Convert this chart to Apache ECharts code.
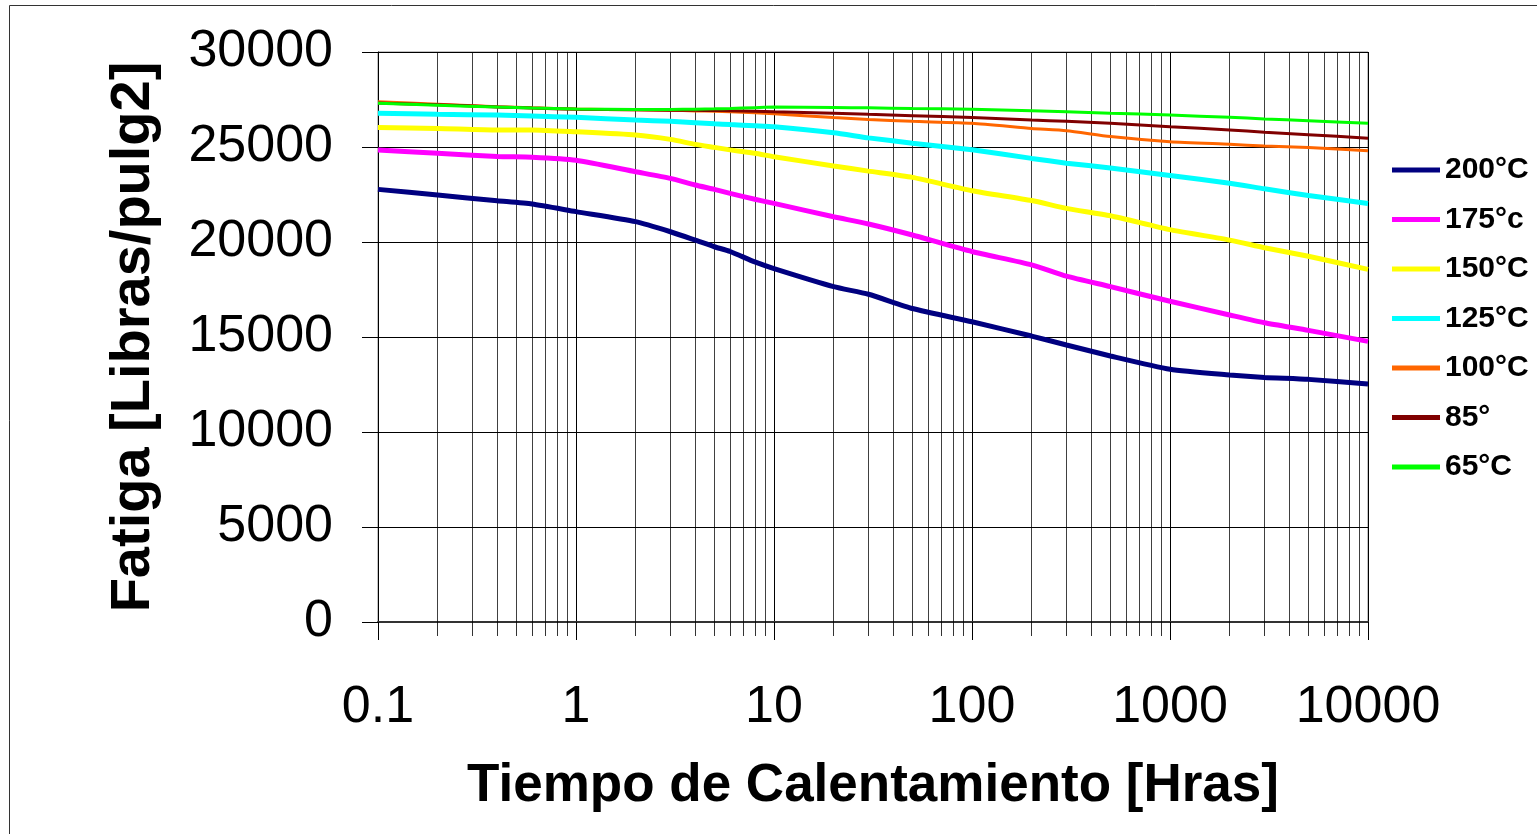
<!DOCTYPE html>
<html>
<head>
<meta charset="utf-8">
<script src="https://cdn.jsdelivr.net/npm/echarts@6/dist/echarts.min.js"></script>
<style>
html,body{margin:0;padding:0;background:#fff;}
#chart{width:1537px;height:834px;}
</style>
</head>
<body>
<div id="chart"></div>
<script>
// ---- data ----
var times = [0.1, 0.2, 0.4, 0.6, 1, 2, 3, 4, 5, 6, 8, 10, 20, 30, 50, 100, 200, 300, 500, 1000, 2000, 3000, 5000, 10000];
var seriesNames = ['200°C', '175°c', '150°C', '125°C', '100°C', '85°', '65°C'];
var s200 = [22770, 22470, 22170, 22000, 21600, 21070, 20540, 20100, 19750, 19500, 18950, 18600, 17650, 17250, 16500, 15800, 15050, 14580, 14000, 13300, 13000, 12870, 12770, 12530];
var s175 = [24840, 24670, 24500, 24460, 24300, 23700, 23350, 23000, 22770, 22560, 22250, 22030, 21330, 20950, 20370, 19500, 18800, 18200, 17650, 16880, 16160, 15750, 15350, 14770];
var s150 = [26020, 25980, 25900, 25900, 25800, 25630, 25400, 25140, 24980, 24850, 24670, 24490, 24000, 23730, 23400, 22700, 22180, 21770, 21380, 20650, 20100, 19700, 19250, 18560];
var s125 = [26770, 26720, 26680, 26630, 26560, 26420, 26350, 26280, 26220, 26180, 26120, 26070, 25750, 25480, 25200, 24850, 24400, 24150, 23900, 23500, 23090, 22800, 22450, 22030];
var s100 = [27380, 27250, 27120, 27060, 27000, 26960, 26930, 26900, 26880, 26860, 26800, 26750, 26550, 26450, 26350, 26250, 25980, 25860, 25550, 25280, 25140, 25050, 24980, 24800];
var s85  = [27320, 27220, 27110, 27050, 26990, 26960, 26940, 26930, 26920, 26910, 26880, 26850, 26780, 26720, 26650, 26550, 26420, 26350, 26250, 26070, 25900, 25780, 25650, 25460];
var s65  = [27300, 27200, 27100, 27050, 27000, 26980, 26980, 26990, 27010, 27030, 27070, 27100, 27080, 27060, 27030, 26990, 26910, 26860, 26780, 26680, 26560, 26480, 26380, 26250];
var xTickLabels = ['0.1', '1', '10', '100', '1000', '10000'];
var yTicks = [0, 5000, 10000, 15000, 20000, 25000, 30000];

var allValues = [s200, s175, s150, s125, s100, s85, s65];
var colors = ['#000080', '#FF00FF', '#FFFF00', '#00FFFF', '#FF6600', '#800000', '#00FF00'];
var widths = [5, 5, 5, 5, 3, 3, 3];

// minor (2..9) log grid positions
var decades = [0.1, 1, 10, 100, 1000];
var minorPositions = [];
decades.forEach(function (d) {
  for (var k = 2; k <= 9; k++) minorPositions.push(+(d * k).toPrecision(6));
});

var chart = echarts.init(document.getElementById('chart'));
var FONT = '"Liberation Sans", Arial, sans-serif';

var series = allValues.map(function (vals, i) {
  return {
    name: seriesNames[i],
    type: 'line',
    xAxisIndex: 0,
    yAxisIndex: 0,
    data: vals.map(function (v, j) { return [times[j], v]; }),
    showSymbol: false,
    symbol: 'none',
    smooth: 0.2,
    lineStyle: { color: colors[i], width: widths[i] },
    itemStyle: { color: colors[i] },
    z: 5 + i,
    silent: true
  };
});

// minor vertical grid lines in plot area
series.push({
  type: 'line', xAxisIndex: 0, yAxisIndex: 0, data: [], silent: true, z: 1,
  markLine: {
    silent: true, symbol: 'none', animation: false,
    label: { show: false },
    lineStyle: { color: '#000', width: 1, type: 'solid', opacity: 0.75 },
    data: minorPositions.map(function (p) { return { xAxis: p }; })
  }
});
// minor ticks below axis line (strip grid)
series.push({
  type: 'line', xAxisIndex: 1, yAxisIndex: 1, data: [], silent: true, z: 1,
  markLine: {
    silent: true, symbol: 'none', animation: false,
    label: { show: false },
    lineStyle: { color: '#000', width: 1, type: 'solid', opacity: 0.8 },
    data: minorPositions.map(function (p) { return { xAxis: p }; })
  }
});

var option = {
  animation: false,
  backgroundColor: '#fff',
  textStyle: { fontFamily: FONT },
  graphic: [{
    type: 'rect', left: 7, top: 3, silent: true,
    shape: { x: 0, y: 0, width: 1600, height: 900 },
    style: { fill: 'none', stroke: '#333', lineWidth: 1 }
  }],
  grid: [
    { left: 378, top: 52, width: 990, height: 570, show: true, borderColor: '#888', borderWidth: 1, backgroundColor: 'transparent' },
    { left: 378, top: 622, width: 990, height: 14, show: false }
  ],
  legend: {
    orient: 'vertical',
    left: 1387,
    top: 150,
    itemWidth: 48,
    itemHeight: 5,
    itemGap: 19.5,
    icon: 'rect',
    data: seriesNames.map(function (n, i) {
      return { name: n, itemStyle: { color: colors[i] } };
    }),
    textStyle: { fontFamily: FONT, fontWeight: 'bold', fontSize: 30, color: '#000', lineHeight: 30 },
    selectedMode: false
  },
  xAxis: [{
    type: 'log',
    logBase: 10,
    min: 0.1,
    max: 10000,
    gridIndex: 0,
    name: 'Tiempo de Calentamiento [Hras]',
    nameLocation: 'middle',
    nameGap: 138,
    nameTextStyle: { fontFamily: FONT, fontWeight: 'bold', fontSize: 53, color: '#000' },
    axisLine: { show: true, onZero: false, lineStyle: { color: '#333', width: 2 } },
    axisTick: { show: true, length: 18, inside: false, lineStyle: { color: '#000', width: 1 } },
    axisLabel: {
      fontFamily: FONT, fontSize: 52, color: '#000', margin: 60,
      formatter: function (v) {
        var s = String(+Number(v).toPrecision(6));
        return xTickLabels.indexOf(s) >= 0 ? s : '';
      }
    },
    splitLine: { show: true, lineStyle: { color: '#000', width: 1 } },
    minorTick: { show: false },
    minorSplitLine: { show: false }
  }, {
    type: 'log',
    logBase: 10,
    min: 0.1,
    max: 10000,
    gridIndex: 1,
    show: false
  }],
  yAxis: [{
    type: 'value',
    gridIndex: 0,
    min: 0,
    max: 30000,
    interval: 5000,
    name: 'Fatiga [Libras/pulg2]',
    nameLocation: 'middle',
    nameGap: 216,
    nameRotate: 90,
    nameTextStyle: { fontFamily: FONT, fontWeight: 'bold', fontSize: 56, color: '#000' },
    axisLine: { show: true, lineStyle: { color: '#000', width: 1 } },
    axisTick: { show: true, length: 16, inside: false, lineStyle: { color: '#000', width: 1 } },
    axisLabel: {
      fontFamily: FONT, fontSize: 52, color: '#000', margin: 45,
      formatter: function (v) { return yTicks.indexOf(v) >= 0 ? String(v) : ''; }
    },
    splitLine: { show: true, lineStyle: { color: '#000', width: 1 } }
  }, {
    type: 'value',
    gridIndex: 1,
    min: 0,
    max: 1,
    show: false
  }],
  series: series
};
chart.setOption(option);
</script>
</body>
</html>
